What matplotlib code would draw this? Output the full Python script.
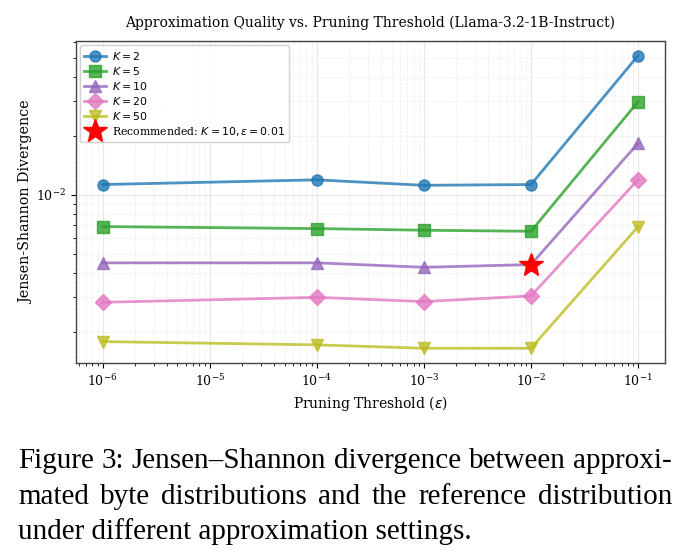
import matplotlib
matplotlib.use("Agg")
import matplotlib.pyplot as plt

# pruning thresholds (x) and JS divergence per top-K setting
thresholds = [1e-6, 1e-4, 1e-3, 1e-2, 1e-1]
k_values = [2, 5, 10, 20, 50]
js_k2 = [0.01129, 0.01193, 0.01119, 0.01129, 0.0514]
js_k5 = [0.00689, 0.00673, 0.00660, 0.00652, 0.0299]
js_k10 = [0.00450, 0.00450, 0.00427, 0.00441, 0.01834]
js_k20 = [0.00283, 0.00300, 0.002855, 0.00305, 0.01197]
js_k50 = [0.001784, 0.001717, 0.00165, 0.00165, 0.00689]
rec_eps = 0.01
rec_js = 0.00441

plt.rcParams['font.family'] = 'DejaVu Serif'
plt.rcParams['mathtext.fontset'] = 'dejavusans'

fig = plt.figure(figsize=(6.89, 5.6), dpi=100)
ax = fig.add_axes([0.110, 0.352, 0.855, 0.575])

series = [js_k2, js_k5, js_k10, js_k20, js_k50]
markers = ['o', 's', '^', 'D', 'v']
colours = ['tab:blue', 'tab:green', 'tab:purple', 'tab:pink', 'tab:olive']
for k, vals, m, c in zip(k_values, series, markers, colours):
    ax.plot(thresholds, vals, marker=m, color=c, linewidth=2, markersize=8,
            alpha=0.8, label=f'$K = {k}$')

ax.plot([rec_eps], [rec_js], '*', color='red', markersize=18, zorder=5,
        label=r'Recommended: $K = 10, \epsilon = 0.01$')

ax.set_xscale('log')
ax.set_yscale('log')
ax.grid(True, which='major', color='#dddddd', linewidth=0.8, alpha=0.7)
ax.grid(True, which='minor', color='#e6e6e6', linewidth=0.6, linestyle='--', alpha=0.6)
for s in ax.spines.values():
    s.set_color('#444444')
    s.set_linewidth(1.0)

ax.set_title('Approximation Quality vs. Pruning Threshold (Llama-3.2-1B-Instruct)',
             fontsize=10, pad=10)
ax.set_xlabel(r'Pruning Threshold ($\epsilon$)', fontsize=10)
ax.set_ylabel('Jensen-Shannon Divergence', fontsize=10.3, labelpad=2)
ax.tick_params(labelsize=9)
ax.legend(loc='upper left', fontsize=7.8, framealpha=0.9, handlelength=2.0,
          handletextpad=0.5, labelspacing=0.28, borderaxespad=0.4)

# caption, first two lines justified like the paper
caption = ["Figure 3: Jensen\u2013Shannon divergence between approxi-",
           "mated byte distributions and the reference distribution",
           "under different approximation settings."]
left_px, right_px = 18, 672
W, H = 689, 560
renderer = fig.canvas.get_renderer()
for i, line in enumerate(caption):
    ybase = 1 - (468 + 35.5 * i) / H
    if i == len(caption) - 1:
        fig.text(left_px / W, ybase, line, family='Liberation Serif',
                 fontsize=21, ha='left', va='baseline')
        continue
    words = line.split(' ')
    objs = [fig.text(0, ybase, w, family='Liberation Serif', fontsize=21,
                     ha='left', va='baseline') for w in words]
    widths = [t.get_window_extent(renderer).width for t in objs]
    gap = (right_px - left_px - sum(widths)) / (len(words) - 1)
    x = left_px
    for t, w in zip(objs, widths):
        t.set_x(x / W)
        x += w + gap

fig.savefig('out.png', dpi=100)
